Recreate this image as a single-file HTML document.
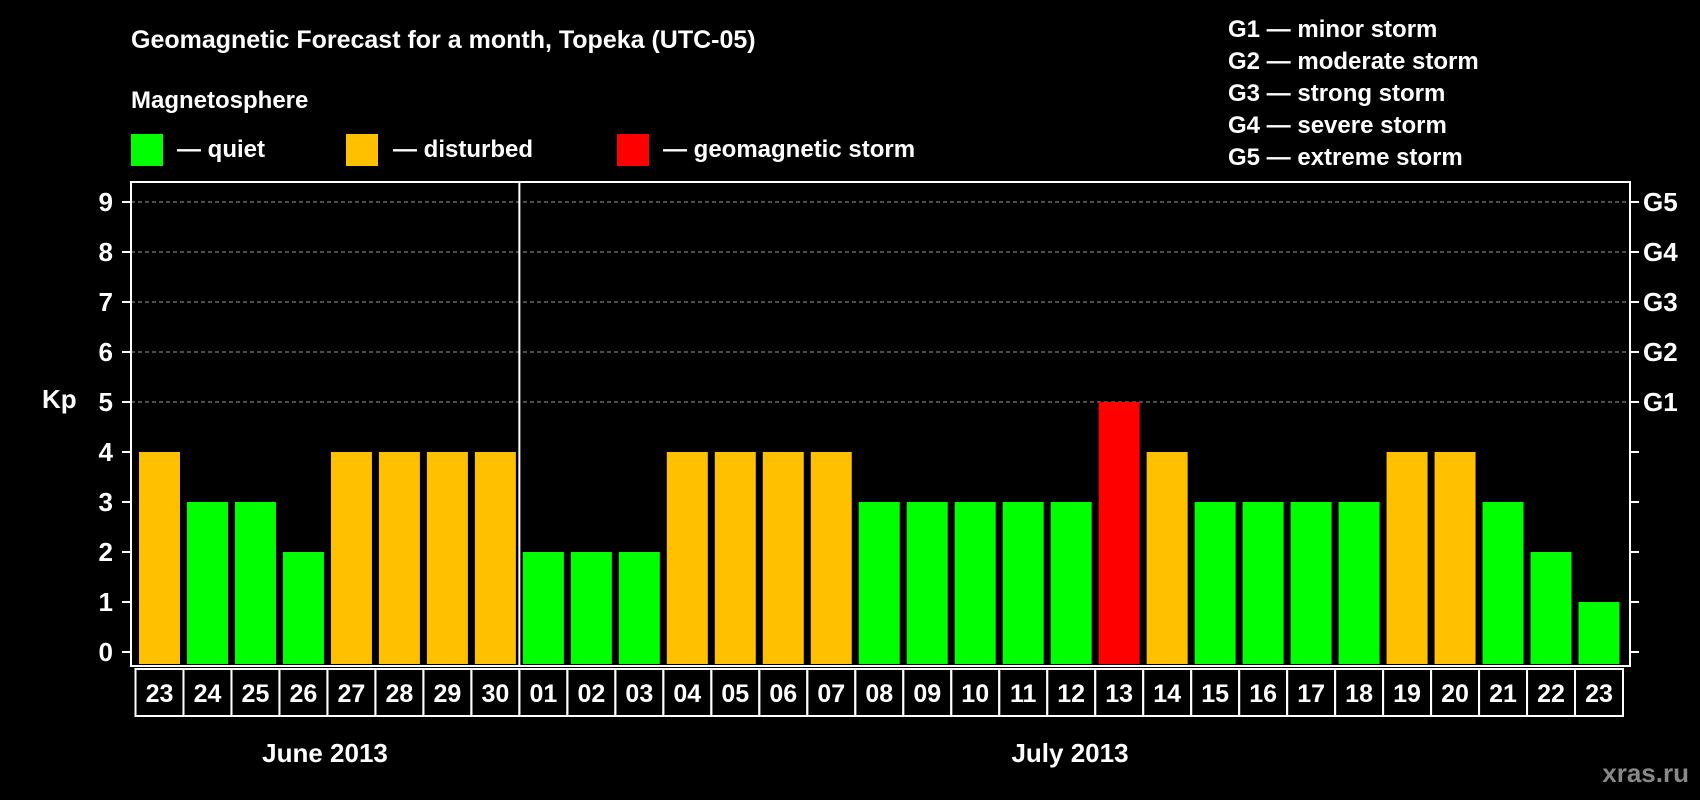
<!DOCTYPE html>
<html><head><meta charset="utf-8"><style>
html,body{margin:0;padding:0;background:#000;}
svg{display:block;font-family:"Liberation Sans",sans-serif;font-weight:bold;}
</style></head><body>
<svg id="chart" width="1700" height="800" viewBox="0 0 1700 800" xmlns="http://www.w3.org/2000/svg">
<rect width="1700" height="800" fill="#000"/>
<text x="131" y="48" fill="#fff" font-size="25">Geomagnetic Forecast for a month, Topeka (UTC-05)</text>
<text x="131" y="108" fill="#fff" font-size="24">Magnetosphere</text>
<rect x="131" y="134" width="32" height="32" fill="#00ff00"/>
<text x="177" y="157" fill="#fff" font-size="24">— quiet</text>
<rect x="346" y="134" width="32" height="32" fill="#ffc000"/>
<text x="393" y="157" fill="#fff" font-size="24">— disturbed</text>
<rect x="617" y="134" width="32" height="32" fill="#ff0000"/>
<text x="663" y="157" fill="#fff" font-size="24">— geomagnetic storm</text>
<g fill="#fff" font-size="24">
<text x="1228" y="37">G1 — minor storm</text>
<text x="1228" y="69">G2 — moderate storm</text>
<text x="1228" y="101">G3 — strong storm</text>
<text x="1228" y="133">G4 — severe storm</text>
<text x="1228" y="165">G5 — extreme storm</text>
</g>
<text x="42" y="408" fill="#fff" font-size="26">Kp</text>
<text x="325" y="762" fill="#fff" font-size="26" text-anchor="middle">June 2013</text>
<text x="1070" y="762" fill="#fff" font-size="26" text-anchor="middle">July 2013</text>
<text x="1689" y="782" fill="#888" font-size="26" text-anchor="end">xras.ru</text>
<g id="plot"></g>
</svg>
<script>
const days = ["23","24","25","26","27","28","29","30","01","02","03","04","05","06","07","08","09","10","11","12","13","14","15","16","17","18","19","20","21","22","23"];
const kpValues = [4,3,3,2,4,4,4,4,2,2,2,4,4,4,4,3,3,3,3,3,5,4,3,3,3,3,4,4,3,2,1];
const yTicks = [0,1,2,3,4,5,6,7,8,9];
const gLabels = ["G1","G2","G3","G4","G5"];
const monthBreak = 8;

const NS="http://www.w3.org/2000/svg";
const plot=document.getElementById('plot');
const L=131,R=1630,T=182,B=666,x0=135.5,colW=(1623-135.5)/days.length;
const y=v=>652-v*50;
const x=i=>x0+i*colW;
function mk(tag,attrs,parent){const e=document.createElementNS(NS,tag);for(const k in attrs)e.setAttribute(k,attrs[k]);(parent||plot).appendChild(e);return e;}

yTicks.forEach(v=>{
  if(v>=5){
    const gl=mk('line',{x1:L,x2:R,y1:y(v),y2:y(v),stroke:'#999','stroke-width':1,'stroke-dasharray':'4,3'});
    
    
  }
  mk('line',{x1:L-9,x2:L,y1:y(v),y2:y(v),stroke:'#fff','stroke-width':2});
  mk('line',{x1:R,x2:R+9,y1:y(v),y2:y(v),stroke:'#fff','stroke-width':2});
  const t=mk('text',{x:113,y:y(v)+9,fill:'#fff','font-size':26,'text-anchor':'end'});
  t.textContent=v;
  
  
});
gLabels.forEach((g,i)=>{
  const t=mk('text',{x:1643,y:y(5+i)+9,fill:'#fff','font-size':26});
  t.textContent=g;
  
  
});
kpValues.forEach((v,i)=>{
  const c=v>=5?'#ff0000':(v>=4?'#ffc000':'#00ff00');
  const r=mk('rect',{x:x(i)+3.5,y:y(v),width:colW-7,height:B-2-y(v),fill:c});
  
  
  const box=mk('rect',{x:x(i),y:669,width:colW,height:47,fill:'none',stroke:'#fff','stroke-width':2});
  
  
  const t=mk('text',{x:x(i)+colW/2,y:702,fill:'#fff','font-size':25,'text-anchor':'middle'});
  t.textContent=days[i];
  
  
});
const frame=mk('rect',{x:L,y:T,width:R-L,height:B-T,fill:'none',stroke:'#fff','stroke-width':2});


const div=mk('line',{x1:x(monthBreak),x2:x(monthBreak),y1:T,y2:B,stroke:'#fff','stroke-width':2});


</script>
</body></html>
